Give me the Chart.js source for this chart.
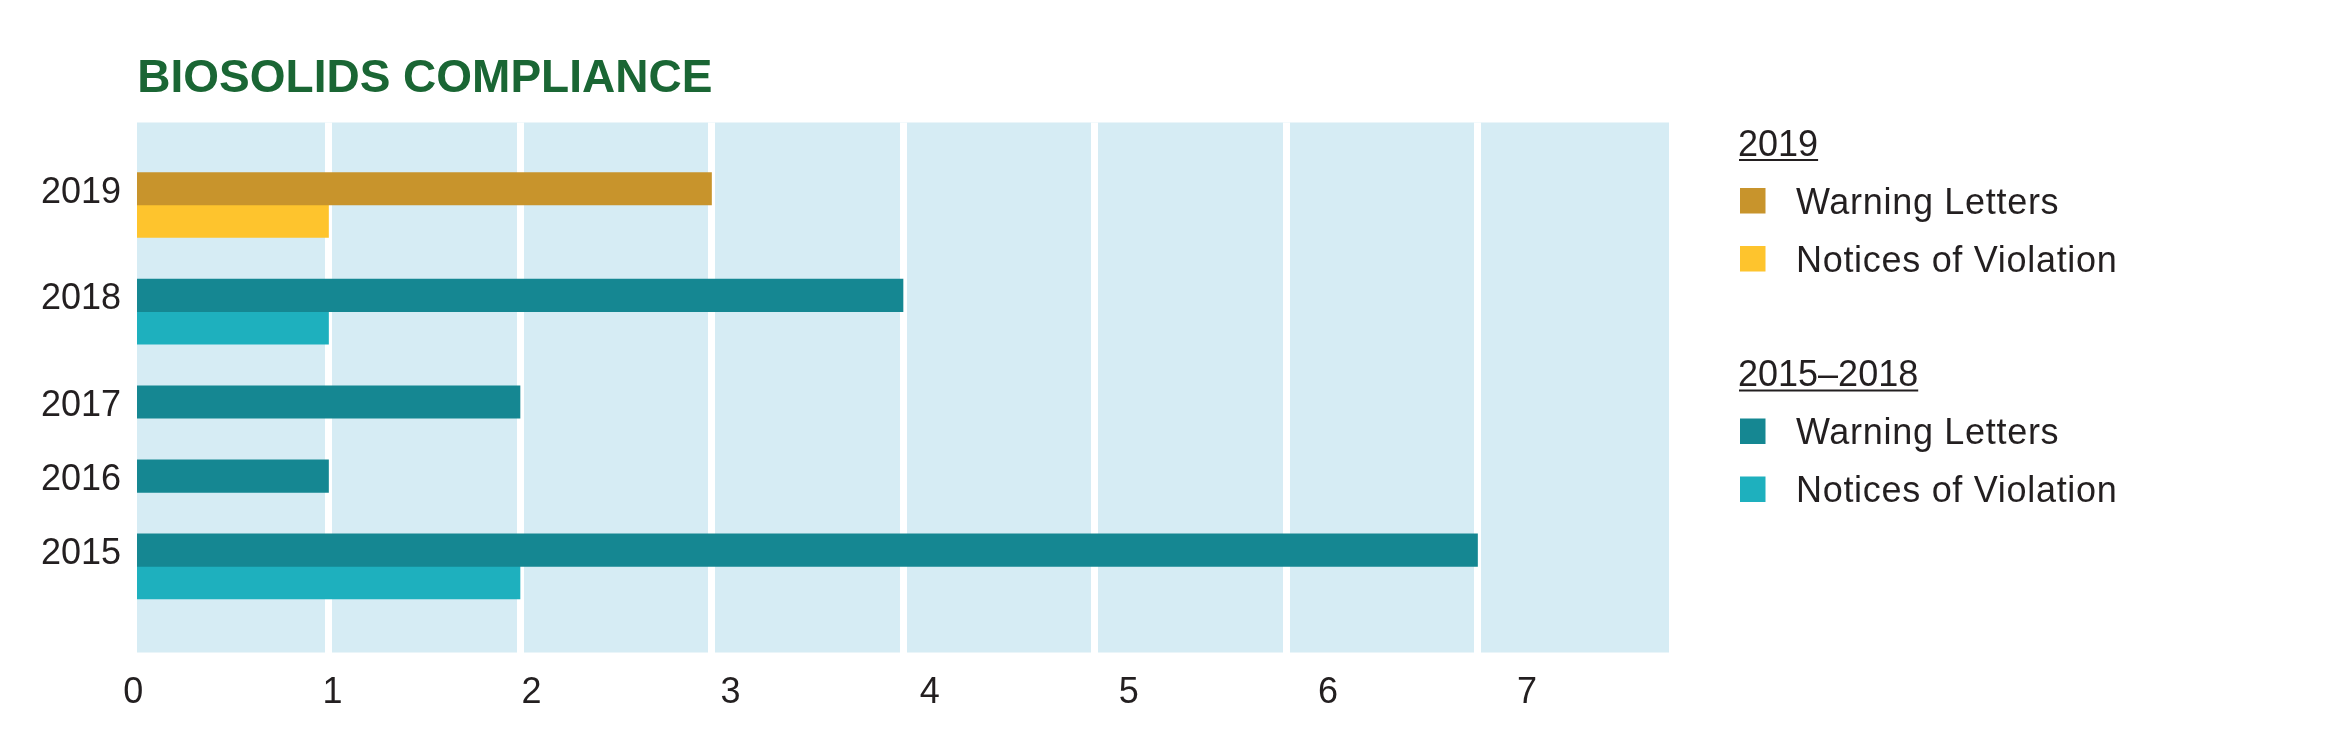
<!DOCTYPE html>
<html>
<head>
<meta charset="utf-8">
<script src="https://cdn.jsdelivr.net/npm/chart.js@4/dist/chart.umd.min.js"></script>
<style>
  html, body { margin: 0; padding: 0; background: #ffffff; }
  #wrap { position: relative; width: 2325px; height: 750px; }
  canvas { display: block; }
</style>
</head>
<body>
<div id="wrap"><canvas id="c" width="2325" height="750"></canvas></div>
<script>
// ---------- data ----------
const chartTitle = 'BIOSOLIDS COMPLIANCE';
const years = ['2019', '2018', '2017', '2016', '2015'];
const warningLetters2019 = [3, null, null, null, null];
const noticesOfViolation2019 = [1, null, null, null, null];
const warningLetters2015to2018 = [null, 4, 2, 1, 7];
const noticesOfViolation2015to2018 = [null, 1, null, null, 2];
const xTickLabels = ['0', '1', '2', '3', '4', '5', '6', '7'];
const legendGroups = ['2019', '2015–2018'];
const seriesNames = ['Warning Letters', 'Notices of Violation'];

// ---------- styles / layout ----------
const FONT = '"Liberation Sans", Arial, Helvetica, sans-serif';
const TEXT = '#231f20';
const seriesList = [warningLetters2019, noticesOfViolation2019, warningLetters2015to2018, noticesOfViolation2015to2018];
const seriesGroup = [0, 0, 1, 1];
const seriesNameIdx = [0, 1, 0, 1];
const seriesColors = ['#c8942c', '#fec42d', '#158792', '#1eb0be'];

// rows are compacted: a year takes as many bar rows as it has bars
const TOP_PAD = 1.54, GAP = 1.28, BOTTOM_PAD = 1.65;
const rowCenters = [], labelRows = [];
let cursor = TOP_PAD;
years.forEach((_, i) => {
  const n = seriesList.filter(s => s[i] !== null).length;
  rowCenters.push(cursor + n / 2);
  labelRows.push(cursor + 0.5);
  cursor += n + GAP;
});
const yMax = cursor - GAP + BOTTOM_PAD;

const plotBackground = {
  id: 'plotBackground',
  beforeDraw(chart) {
    const { ctx, chartArea: a } = chart;
    ctx.save();
    ctx.fillStyle = '#d6ecf4';
    ctx.fillRect(a.left, a.top, a.right - a.left, a.bottom - a.top);
    ctx.restore();
  }
};

const titlePlugin = {
  id: 'titleText',
  afterDraw(chart) {
    const ctx = chart.ctx;
    ctx.save();
    ctx.font = 'bold 46px ' + FONT;
    ctx.fillStyle = '#1a6634';
    ctx.textBaseline = 'alphabetic';
    ctx.textAlign = 'left';
    ctx.fillText(chartTitle, 137.3, 92.3);
    ctx.restore();
  }
};

const groupLegend = {
  id: 'groupLegend',
  afterDraw(chart) {
    const ctx = chart.ctx;
    const headBase = [155.5, 386];
    const step = 58;
    const box = 25.5;
    ctx.save();
    ctx.font = '36px ' + FONT;
    ctx.fillStyle = TEXT;
    ctx.textBaseline = 'alphabetic';
    ctx.textAlign = 'left';
    legendGroups.forEach((g, gi) => {
      const B = headBase[gi];
      ctx.letterSpacing = '0px';
      ctx.fillStyle = TEXT;
      ctx.fillText(g, 1738, B);
      const w = ctx.measureText(g).width;
      ctx.fillRect(1739, B + 3.5, w - 1, 2);
      let j = 0;
      chart.data.datasets.forEach((ds, k) => {
        if (seriesGroup[k] !== gi) return;
        j++;
        const base = B + step * j;
        ctx.fillStyle = ds.backgroundColor;
        ctx.fillRect(1740, base - box, box, box);
        ctx.fillStyle = TEXT;
        ctx.letterSpacing = '0.7px';
        ctx.fillText(ds.label, 1796, base);
      });
    });
    ctx.restore();
  }
};

const isEdgeTick = c => c.tick && (c.tick.value === 0 || c.tick.value === 8);

new Chart(document.getElementById('c'), {
  type: 'bar',
  data: {
    datasets: seriesList.map((values, k) => ({
      label: seriesNames[seriesNameIdx[k]],
      data: values.map((v, i) => ({ x: v, y: rowCenters[i] })),
      backgroundColor: seriesColors[k],
      borderWidth: 0,
      barThickness: 32.5,
      skipNull: true,
      xAxisID: 'x',
      yAxisID: 'y'
    }))
  },
  options: {
    indexAxis: 'y',
    responsive: false,
    devicePixelRatio: 1,
    animation: false,
    layout: { padding: { left: 0, right: 656, top: 122.5, bottom: 37.5 } },
    plugins: { legend: { display: false }, tooltip: { enabled: false }, title: { display: false } },
    scales: {
      y: {
        type: 'linear', reverse: true, min: 0, max: yMax, offset: false,
        afterFit: s => { s.width = 137; },
        afterBuildTicks: s => { s.ticks = labelRows.map(v => ({ value: v })); },
        ticks: { autoSkip: false, padding: 16, labelOffset: 4, color: TEXT, font: { family: FONT, size: 36 },
                 callback: (v, i) => years[i] },
        grid: { display: false, drawTicks: false },
        border: { display: false }
      },
      x: {
        type: 'linear', position: 'bottom', min: 0, max: 8,
        afterFit: s => { s.height = 0; },
        ticks: { display: false, stepSize: 1 },
        grid: {
          color: c => isEdgeTick(c) ? 'rgba(0,0,0,0)' : '#ffffff',
          lineWidth: c => isEdgeTick(c) ? 0 : 7,
          drawTicks: false
        },
        border: { display: false }
      },
      x2: {
        type: 'linear', position: 'bottom', min: 0.0186, max: 7.713,
        afterBuildTicks: s => { s.ticks = xTickLabels.map((_, i) => ({ value: i })); },
        afterFit: s => { s.height = 60; },
        ticks: { autoSkip: false, maxRotation: 0, padding: 19, color: TEXT, font: { family: FONT, size: 36 },
                 callback: (v, i) => xTickLabels[i] },
        grid: { display: false, drawTicks: false },
        border: { display: false }
      }
    }
  },
  plugins: [plotBackground, titlePlugin, groupLegend]
});
</script>
</body>
</html>
